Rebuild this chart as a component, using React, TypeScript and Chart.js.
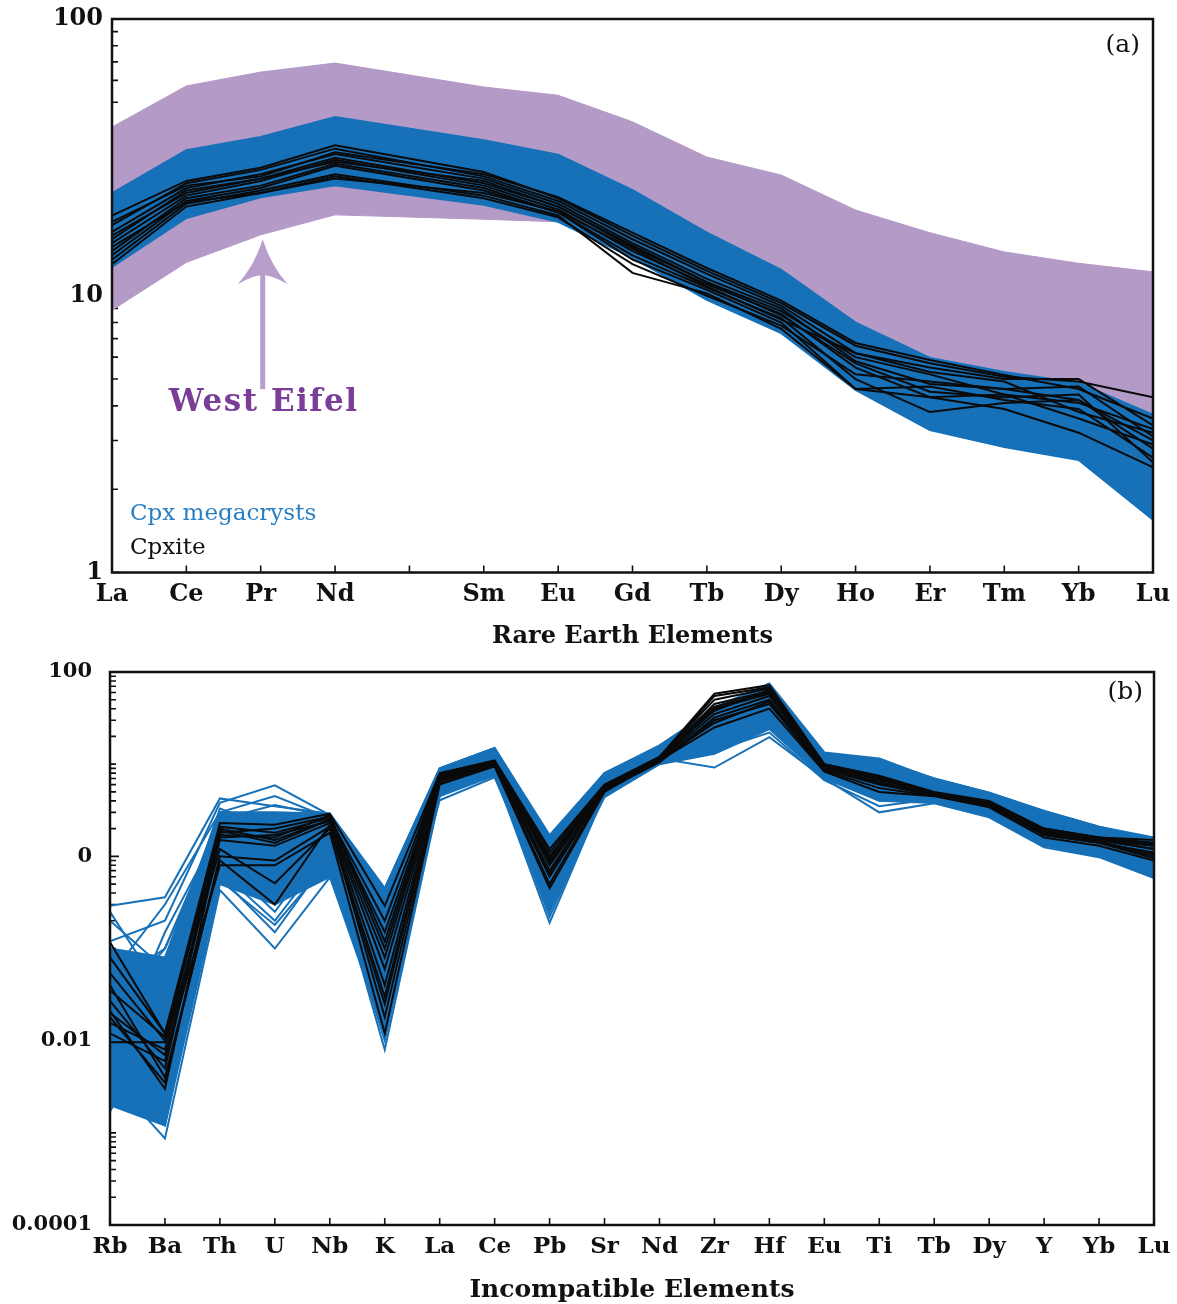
import React, { useEffect, useRef } from 'react';
import { Chart, registerables } from 'chart.js';

Chart.register(...registerables);

// ---------------- Panel (a): Rare Earth Elements ----------------
const REE_LABELS = ['La', 'Ce', 'Pr', 'Nd', '', 'Sm', 'Eu', 'Gd', 'Tb', 'Dy', 'Ho', 'Er', 'Tm', 'Yb', 'Lu'];
// positions of measured elements along the axis (Pm, index 4, is not measured)
const REE_X = [0, 1, 2, 3, 5, 6, 7, 8, 9, 10, 11, 12, 13, 14];

const westEifelUpper = [40.7, 57.3, 64.3, 69.3, 56.8, 53, 42.5, 31.7, 27.3, 20.4, 16.9, 14.4, 13.1, 12.2];
const westEifelLower = [8.87, 13.2, 16.6, 19.6, 18.9, 18.5, 14.5, 10.4, 7.9, 5.2, 3.9, 3.4, 3.1, 2.6];

const cpxUpperREE = [23.5, 33.6, 37.5, 44.2, 36.5, 32.3, 24.1, 16.9, 12.4, 8.0, 5.96, 5.3, 4.84, 3.71];
const cpxLowerREE = [12.7, 19.1, 22.7, 25.1, 21.3, 18.5, 13.7, 9.66, 7.33, 4.57, 3.27, 2.84, 2.55, 1.55];

const cpxLinesREE = [
  [22, 32, 36, 42, 35, 31, 23, 16, 12, 7.6, 5.7, 5.1, 4.7, 3.6],
  [20, 30, 34, 40, 34, 30.5, 22, 15, 11.5, 7.2, 5.4, 4.9, 4.5, 3.3],
  [14, 20, 23.5, 26, 22, 19, 14.5, 10.2, 7.6, 4.8, 3.4, 3.0, 2.7, 1.7],
  [13, 19.5, 23, 25.5, 21.5, 18.7, 14, 9.8, 7.4, 4.6, 3.3, 2.9, 2.6, 1.6],
  [17, 26, 30, 36, 30, 26, 18, 13, 9.5, 6.0, 4.2, 3.8, 3.4, 2.2],
  [15, 22, 26, 30, 25, 22, 16, 11, 8.2, 5.2, 3.8, 3.4, 3.0, 1.9],
  [21, 31, 35, 41, 35, 31.5, 24, 16.5, 12.2, 7.9, 5.9, 5.2, 4.8, 3.7],
  [16, 24, 28, 33, 28, 25, 17, 12, 8.8, 5.5, 4.0, 3.6, 3.2, 2.0],
];

const cpxiteREE = [
  [19.5, 26, 29, 35, 28, 22.5, 16.5, 12.3, 9.4, 6.6, 5.7, 5.1, 4.9, 4.3],
  [18, 25.5, 28.5, 34, 27, 22, 16, 12, 9.2, 6.2, 5.5, 5.0, 5.0, 3.4],
  [17, 24.5, 27.5, 32.5, 26.5, 21.5, 15.5, 11.5, 9, 5.8, 4.8, 4.6, 4.7, 3.1],
  [16, 24, 26.5, 31.5, 25.5, 21, 15, 11.2, 8.8, 6.0, 5.2, 4.4, 4.1, 3.3],
  [15.5, 23, 26, 31, 25, 20.5, 14.5, 11, 8.6, 5.5, 4.3, 4.4, 3.6, 2.9],
  [14.5, 22.5, 25, 30, 24.5, 20, 14, 10.7, 8.3, 5.0, 3.8, 4.1, 4.2, 3.0],
  [14, 22, 24.5, 29.5, 24, 20, 13.5, 10.5, 8.0, 4.6, 4.7, 4.2, 3.9, 2.6],
  [13.5, 21.5, 24, 27.5, 23, 19.5, 12.1, 10.2, 7.6, 4.6, 4.3, 3.9, 3.2, 2.4],
  [13, 21, 23.5, 27, 22.5, 19.2, 13, 10, 7.8, 5.2, 4.9, 4.6, 4.2, 2.8],
  [18.5, 25, 27, 33, 27.5, 22.7, 16.9, 12.6, 9.6, 6.75, 5.86, 5.17, 4.6, 3.6],
  [16.5, 23.5, 26.5, 30.5, 26, 21, 15.2, 11.2, 8.5, 5.7, 4.5, 4.3, 4.4, 2.5],
  [15, 21.8, 23.5, 26.5, 23.5, 20.2, 14.8, 10.8, 8.2, 6.2, 5.3, 4.9, 3.8, 3.2],
];

const REE_Y_LABELS: Record<string, string> = { '0': '1', '1': '10', '2': '100' };

// ---------------- Panel (b): Incompatible Elements ----------------
const INC_LABELS = ['Rb', 'Ba', 'Th', 'U', 'Nb', 'K', 'La', 'Ce', 'Pb', 'Sr', 'Nd', 'Zr', 'Hf', 'Eu', 'Ti', 'Tb', 'Dy', 'Y', 'Yb', 'Lu'];
const INC_X = INC_LABELS.map((_, i) => i);

const cpxUpperInc = [0.1, 0.08, 3.0, 3.0, 2.9, 0.45, 9.0, 15.0, 1.7, 8.0, 16.0, 40, 72, 13.0, 11.0, 7.0, 4.9, 3.1, 2.1, 1.6];
const cpxLowerInc = [0.002, 0.0012, 0.5, 0.3, 0.6, 0.012, 4.5, 7.5, 0.25, 4.5, 10.0, 13, 24, 7.0, 4.0, 3.8, 2.7, 1.3, 1.0, 0.6];

const cpxLinesInc = [
  [0.29, 0.36, 4.25, 3.5, 2.9, 0.45, 9.0, 15, 1.6, 8.0, 15.5, 38, 70, 13, 11, 7.0, 4.9, 3.1, 2.1, 1.5],
  [0.12, 0.2, 3.8, 5.9, 2.8, 0.3, 8.8, 14.5, 1.2, 7.6, 15, 35, 65, 12.5, 10.5, 6.8, 4.7, 3.0, 2.0, 1.3],
  [0.05, 0.3, 3.0, 4.5, 2.6, 0.2, 8.5, 14, 1.0, 7.2, 14, 30, 60, 12, 10, 6.5, 4.5, 2.8, 1.9, 1.2],
  [0.02, 0.1, 2.5, 3.6, 2.7, 0.1, 8.0, 13, 0.8, 7.0, 13.5, 26, 55, 11.5, 9.5, 6.2, 4.3, 2.6, 1.8, 1.1],
  [0.006, 0.15, 2.0, 2.8, 2.5, 0.05, 7.5, 12.5, 0.6, 6.8, 13, 24, 50, 11, 9, 6.0, 4.1, 2.5, 1.7, 1.0],
  [0.003, 0.05, 1.4, 0.5, 2.2, 0.02, 6.5, 11.5, 0.4, 6.2, 12.5, 22, 45, 10, 8, 5.5, 3.8, 2.3, 1.6, 0.9],
  [0.0017, 0.02, 0.9, 0.25, 1.6, 0.012, 5.5, 10, 0.25, 5.5, 12, 20, 40, 9, 7, 5.0, 3.5, 2.1, 1.4, 0.8],
  [0.01, 0.002, 0.6, 0.15, 1.0, 0.008, 4.5, 8, 0.19, 4.8, 11, 18, 30, 8, 5, 4.5, 3.2, 1.8, 1.2, 0.7],
  [0.004, 0.00087, 0.43, 0.1, 0.59, 0.03, 4.05, 7.2, 0.3, 4.4, 10, 16, 25, 7.5, 4, 4.0, 2.9, 1.5, 1.1, 0.65],
  [0.03, 0.008, 0.8, 0.3, 0.8, 0.06, 5.0, 9, 0.5, 5.0, 11.5, 9.2, 19.6, 7, 3.0, 3.76, 2.65, 1.25, 0.98, 0.58],
  [0.08, 0.04, 1.8, 1.2, 1.9, 0.15, 7.0, 12, 0.9, 6.5, 12.5, 14, 22, 6.7, 3.5, 4.2, 3.0, 1.6, 1.1, 0.62],
  [0.015, 0.004, 1.2, 0.7, 1.4, 0.04, 6.0, 11, 0.7, 6.0, 12, 41, 75, 13.4, 11.5, 6.9, 4.8, 2.9, 1.9, 1.4],
  [0.2, 0.06, 3.3, 2.0, 2.6, 0.35, 8.5, 13.5, 1.4, 7.5, 14, 28, 58, 11, 9, 6.0, 4.2, 2.5, 1.8, 1.6],
  [0.0025, 0.0012, 0.7, 0.2, 1.2, 0.015, 5.0, 9.5, 0.35, 5.3, 11, 17, 35, 9.5, 7.5, 5.2, 3.6, 2.2, 1.5, 0.85],
  [0.25, 0.03, 2.6, 1.6, 2.4, 0.25, 8.2, 13, 1.3, 7.3, 14, 32, 62, 12, 10, 6.4, 4.4, 2.7, 1.9, 1.3],
  [0.007, 0.03, 1.0, 0.4, 1.5, 0.025, 5.8, 10.5, 0.45, 5.8, 12, 21, 42, 9.8, 7.8, 5.4, 3.7, 2.2, 1.5, 0.9],
  [0.0022, 0.004, 1.6, 0.9, 2.0, 0.05, 6.8, 11.8, 0.55, 6.3, 12.8, 25, 48, 10.5, 8.5, 5.7, 3.9, 2.4, 1.6, 1.0],
  [0.04, 0.1, 2.2, 2.4, 2.3, 0.08, 7.6, 12.8, 0.75, 6.9, 13.2, 27, 52, 11.2, 9.2, 6.1, 4.2, 2.6, 1.75, 1.15],
  [0.0035, 0.0018, 0.55, 0.18, 0.9, 0.01, 4.8, 8.5, 0.22, 4.7, 10.5, 15, 28, 7.8, 4.5, 4.1, 2.9, 1.4, 1.05, 0.62],
];

const cpxiteInc = [
  [0.117, 0.012, 2.3, 2.2, 2.9, 0.29, 8, 11, 1.2, 6, 12, 58, 72, 10, 7.5, 5, 4, 2, 1.6, 1.4],
  [0.054, 0.01, 2.0, 1.5, 2.5, 0.15, 7.5, 10.5, 1.0, 5.8, 11.5, 55, 68, 9.8, 7.2, 4.9, 3.9, 1.9, 1.6, 1.5],
  [0.027, 0.005, 1.8, 2.0, 2.7, 0.1, 7.2, 10, 0.9, 5.6, 11.5, 45, 62, 9.5, 7, 4.8, 3.8, 1.9, 1.5, 1.3],
  [0.021, 0.003, 1.6, 1.7, 2.4, 0.06, 7, 10.5, 0.8, 5.5, 11, 40, 58, 9.3, 6.8, 4.7, 3.7, 1.8, 1.5, 1.2],
  [0.0156, 0.008, 1.5, 1.3, 2.3, 0.04, 6.8, 10, 0.7, 5.4, 11, 35, 55, 9, 6.5, 4.6, 3.6, 1.8, 1.4, 1.1],
  [0.0096, 0.0096, 1.2, 0.51, 2.0, 0.025, 6.5, 9.8, 0.6, 5.3, 10.5, 32, 50, 8.8, 6, 4.6, 3.5, 1.7, 1.4, 1.0],
  [0.04, 0.004, 0.9, 0.3, 2.2, 0.018, 6.2, 9.5, 0.5, 5.2, 10.5, 30, 45, 8.5, 5.5, 4.5, 3.5, 1.7, 1.4, 0.95],
  [0.02, 0.007, 0.8, 0.8, 1.8, 0.012, 6, 9.5, 0.45, 5.0, 11, 25, 40, 8.3, 5, 4.5, 3.4, 1.6, 1.3, 0.9],
  [0.012, 0.006, 2.1, 1.8, 2.6, 0.2, 7.8, 10.8, 1.1, 5.9, 12, 50, 66, 10, 7.3, 4.9, 3.9, 2.0, 1.6, 1.3],
  [0.035, 0.011, 1.9, 1.4, 2.5, 0.08, 7.4, 10.3, 0.85, 5.7, 11.8, 42, 60, 9.6, 6.9, 4.8, 3.8, 1.85, 1.5, 1.2],
  [0.018, 0.0035, 1.0, 0.9, 2.1, 0.03, 6.6, 9.9, 0.65, 5.4, 11.2, 28, 48, 9, 6.2, 4.6, 3.6, 1.75, 1.45, 1.05],
  [0.08, 0.012, 1.7, 1.6, 2.8, 0.12, 7.6, 10.6, 0.95, 5.8, 11.6, 38, 64, 9.7, 7.1, 4.85, 3.85, 1.9, 1.55, 1.35],
];

const INC_Y_LABELS: Record<string, string> = { '2': '100', '0': '0', '-2': '0.01', '-4': '0.0001' };

// ---------------- styling ----------------
const SERIF = '"DejaVu Serif", "Liberation Serif", serif';
const INK = '#111111';
const BLUE = '#1771b8';
const PURPLE_FILL = '#b49ac7';
const PURPLE_TEXT = '#7a3e98';
const ARROW_COLOR = '#b79ecb';

const pts = (xs: number[], ys: number[]) => ys.map((v, i) => ({ x: xs[i], y: v }));

const logTickValues = (minExp: number, maxExp: number) => {
  const out: { value: number }[] = [];
  for (let e = minExp; e < maxExp; e++) {
    for (let m = 1; m < 10; m++) out.push({ value: m * Math.pow(10, e) });
  }
  out.push({ value: Math.pow(10, maxExp) });
  return out;
};

const expKey = (v: number) => {
  const l = Math.log10(v);
  return Math.abs(l - Math.round(l)) < 1e-6 ? String(Math.round(l)) : null;
};

const zeroPad = (s: any) => {
  s.paddingLeft = 0;
  s.paddingRight = 0;
  s.paddingTop = 0;
  s.paddingBottom = 0;
};

const framePlugin = (labels: Record<string, string>) => ({
  id: 'frameTicks',
  beforeDatasetsDraw(chart: any) {
    const { ctx, chartArea: a, scales } = chart;
    ctx.save();
    ctx.strokeStyle = INK;
    ctx.lineWidth = 1.6;
    ctx.beginPath();
    scales.y.ticks.forEach((t: any) => {
      const py = scales.y.getPixelForValue(t.value);
      const k = expKey(t.value);
      const len = k !== null && labels[k] !== undefined ? 9 : 6;
      ctx.moveTo(a.left, py);
      ctx.lineTo(a.left + len, py);
    });
    scales.x.ticks.forEach((t: any) => {
      const px = scales.x.getPixelForValue(t.value);
      ctx.moveTo(px, a.bottom);
      ctx.lineTo(px, a.bottom - 7);
    });
    ctx.stroke();
    ctx.restore();
  },
  afterDatasetsDraw(chart: any) {
    const { ctx, chartArea: a } = chart;
    ctx.save();
    ctx.strokeStyle = INK;
    ctx.lineWidth = 2.5;
    ctx.strokeRect(a.left, a.top, a.right - a.left, a.bottom - a.top);
    ctx.restore();
  },
});

const annotationsA = {
  id: 'annotationsA',
  afterDraw(chart: any) {
    const { ctx, chartArea: a, scales } = chart;
    const x = scales.x.getPixelForValue(2) + 2;
    const yTip = scales.y.getPixelForValue(16);
    const yTail = scales.y.getPixelForValue(4.6);
    ctx.save();
    // arrow
    ctx.fillStyle = ARROW_COLOR;
    ctx.fillRect(x - 2.5, yTip + 30, 5, yTail - yTip - 30);
    ctx.beginPath();
    ctx.moveTo(x, yTip);
    ctx.quadraticCurveTo(x - 8, yTip + 26, x - 25, yTip + 45);
    ctx.quadraticCurveTo(x - 10, yTip + 36, x, yTip + 36);
    ctx.quadraticCurveTo(x + 10, yTip + 36, x + 25, yTip + 45);
    ctx.quadraticCurveTo(x + 8, yTip + 26, x, yTip);
    ctx.closePath();
    ctx.fill();
    // label
    ctx.fillStyle = PURPLE_TEXT;
    ctx.font = `bold 31px ${SERIF}`;
    (ctx as any).letterSpacing = '1.5px';
    ctx.textAlign = 'center';
    ctx.textBaseline = 'middle';
    ctx.fillText('West Eifel', x + 1, scales.y.getPixelForValue(4.1));
    (ctx as any).letterSpacing = '0px';
    // legend texts
    ctx.textAlign = 'left';
    ctx.font = `23px ${SERIF}`;
    ctx.fillStyle = '#2a7fc4';
    ctx.fillText('Cpx megacrysts', a.left + 18, a.bottom - 58);
    ctx.fillStyle = INK;
    ctx.fillText('Cpxite', a.left + 18, a.bottom - 24);
    // panel label
    ctx.textAlign = 'right';
    ctx.font = `25px ${SERIF}`;
    ctx.fillText('(a)', a.right - 13, a.top + 26);
    ctx.restore();
  },
};

const annotationsB = {
  id: 'annotationsB',
  afterDraw(chart: any) {
    const { ctx, chartArea: a } = chart;
    ctx.save();
    ctx.fillStyle = INK;
    ctx.font = `25px ${SERIF}`;
    ctx.textAlign = 'right';
    ctx.textBaseline = 'middle';
    ctx.fillText('(b)', a.right - 11, a.top + 20);
    ctx.restore();
  },
};

const lineDs = (data: any[], color: string, order: number, extra: any = {}) => ({
  data,
  borderColor: color,
  backgroundColor: color,
  borderWidth: 2,
  pointRadius: 0,
  tension: 0,
  fill: false,
  order,
  ...extra,
});

function buildChartA(canvas: HTMLCanvasElement) {
  const datasets: any[] = [
    lineDs(pts(REE_X, westEifelUpper), PURPLE_FILL, 5, { fill: 1, backgroundColor: PURPLE_FILL, borderWidth: 1 }),
    lineDs(pts(REE_X, westEifelLower), PURPLE_FILL, 5, { borderWidth: 1 }),
    lineDs(pts(REE_X, cpxUpperREE), BLUE, 4, { fill: 3, backgroundColor: BLUE }),
    lineDs(pts(REE_X, cpxLowerREE), BLUE, 4),
    ...cpxLinesREE.map((s) => lineDs(pts(REE_X, s), BLUE, 3)),
    ...cpxiteREE.map((s) => lineDs(pts(REE_X, s), '#0a0a0a', 1)),
  ];
  return new Chart(canvas, {
    type: 'line',
    data: { datasets },
    options: {
      animation: false,
      responsive: false,
      layout: { padding: { top: 19, right: 24, left: 0, bottom: 0 } },
      plugins: { legend: { display: false }, tooltip: { enabled: false } },
      scales: {
        x: {
          type: 'linear',
          min: 0,
          max: REE_LABELS.length - 1,
          grid: { display: false, drawTicks: false },
          border: { display: false },
          afterBuildTicks: (s: any) => {
            s.ticks = REE_LABELS.map((_, i) => ({ value: i }));
          },
          afterFit: (s: any) => {
            s.height = 77.5;
            zeroPad(s);
          },
          ticks: {
            autoSkip: false,
            maxRotation: 0,
            padding: 8,
            color: INK,
            font: { family: SERIF, size: 24, weight: 'bold' },
            callback: (v: any) => REE_LABELS[Math.round(Number(v))] ?? '',
          },
          title: {
            display: true,
            text: 'Rare Earth Elements',
            color: INK,
            font: { family: SERIF, size: 24, weight: 'bold', lineHeight: 1.1 },
            padding: { top: 0, bottom: 0 },
          },
        },
        y: {
          type: 'logarithmic',
          min: 1,
          max: 100,
          grid: { display: false, drawTicks: false },
          border: { display: false },
          afterBuildTicks: (s: any) => {
            s.ticks = logTickValues(0, 2);
          },
          afterFit: (s: any) => {
            s.width = 112;
            zeroPad(s);
          },
          ticks: {
            autoSkip: false,
            padding: 9,
            color: INK,
            font: { family: SERIF, size: 24, weight: 'bold' },
            callback: (v: any) => {
              const k = expKey(Number(v));
              return k !== null && REE_Y_LABELS[k] ? REE_Y_LABELS[k] : '';
            },
          },
        },
      },
    } as any,
    plugins: [framePlugin(REE_Y_LABELS), annotationsA],
  });
}

function buildChartB(canvas: HTMLCanvasElement) {
  const datasets: any[] = [
    lineDs(pts(INC_X, cpxUpperInc), BLUE, 4, { fill: 1, backgroundColor: BLUE }),
    lineDs(pts(INC_X, cpxLowerInc), BLUE, 4),
    ...cpxLinesInc.map((s) => lineDs(pts(INC_X, s), BLUE, 3)),
    ...cpxiteInc.map((s) => lineDs(pts(INC_X, s), '#0a0a0a', 1)),
  ];
  return new Chart(canvas, {
    type: 'line',
    data: { datasets },
    options: {
      animation: false,
      responsive: false,
      layout: { padding: { top: 22, right: 23, left: 0, bottom: 0 } },
      plugins: { legend: { display: false }, tooltip: { enabled: false } },
      scales: {
        x: {
          type: 'linear',
          min: 0,
          max: INC_LABELS.length - 1,
          grid: { display: false, drawTicks: false },
          border: { display: false },
          afterBuildTicks: (s: any) => {
            s.ticks = INC_LABELS.map((_, i) => ({ value: i }));
          },
          afterFit: (s: any) => {
            s.height = 79;
            zeroPad(s);
          },
          ticks: {
            autoSkip: false,
            maxRotation: 0,
            padding: 8,
            color: INK,
            font: { family: SERIF, size: 23, weight: 'bold' },
            callback: (v: any) => INC_LABELS[Math.round(Number(v))] ?? '',
          },
          title: {
            display: true,
            text: 'Incompatible Elements',
            color: INK,
            font: { family: SERIF, size: 25, weight: 'bold', lineHeight: 1.1 },
            padding: { top: 0, bottom: 0 },
          },
        },
        y: {
          type: 'logarithmic',
          min: 0.0001,
          max: 100,
          grid: { display: false, drawTicks: false },
          border: { display: false },
          afterBuildTicks: (s: any) => {
            s.ticks = logTickValues(-4, 2);
          },
          afterFit: (s: any) => {
            s.width = 110;
            zeroPad(s);
          },
          ticks: {
            autoSkip: false,
            padding: 18,
            color: INK,
            font: { family: SERIF, size: 21, weight: 'bold' },
            callback: (v: any) => {
              const k = expKey(Number(v));
              return k !== null && INC_Y_LABELS[k] ? INC_Y_LABELS[k] : '';
            },
          },
        },
      },
    } as any,
    plugins: [framePlugin(INC_Y_LABELS), annotationsB],
  });
}

export default function App() {
  const refA = useRef<HTMLCanvasElement | null>(null);
  const refB = useRef<HTMLCanvasElement | null>(null);

  useEffect(() => {
    const a = refA.current ? buildChartA(refA.current) : null;
    const b = refB.current ? buildChartB(refB.current) : null;
    return () => {
      a?.destroy();
      b?.destroy();
    };
  }, []);

  return (
    <div style={{ position: 'absolute', left: 0, top: 0, width: 1177, height: 1304, background: '#ffffff' }}>
      <canvas ref={refA} width={1177} height={650} style={{ position: 'absolute', left: 0, top: 0, width: 1177, height: 650 }} />
      <canvas ref={refB} width={1177} height={654} style={{ position: 'absolute', left: 0, top: 650, width: 1177, height: 654 }} />
    </div>
  );
}
